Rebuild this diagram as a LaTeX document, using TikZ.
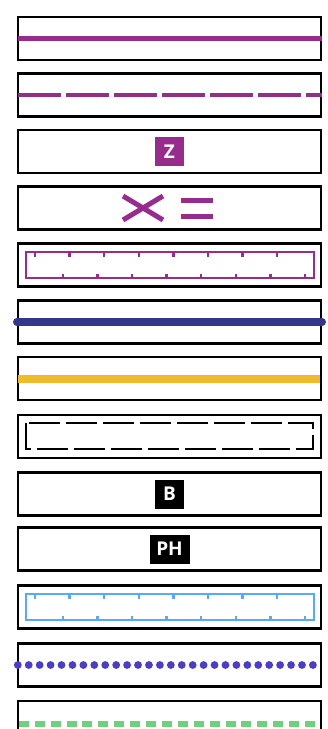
\documentclass[tikz,border=0pt]{standalone}
\usepackage{fontspec}
\newfontfamily\badgefont{Open Sans}
\usepackage{tikz}

\definecolor{plum}{RGB}{150,45,140}
\definecolor{navy}{RGB}{51,54,138}
\definecolor{amber}{RGB}{240,186,44}
\definecolor{sky}{RGB}{90,169,247}
\definecolor{indigo}{RGB}{75,62,194}
\definecolor{mint}{RGB}{109,209,127}

\begin{document}
\begin{tikzpicture}[x=1pt,y=-1pt]
\useasboundingbox (0,0) rectangle (328,729);

\begin{scope}[every node/.style={rectangle,draw=black,line width=2.4pt,
              minimum width=303pt,minimum height=43pt,inner sep=0pt}]
    \node (b1) at (169.5,38.5) {};
    \node (b2) at (169.5,95) {};
    \node (b3) at (169.5,151.5) {};
    \node (b4) at (169.5,208) {};
    \node (b5) at (169.5,265) {};
    \node (b6) at (169.5,322) {};
    \node (b7) at (169.5,378.5) {};
    \node (b8) at (169.5,436.5) {};
    \node (b9) at (169.5,494) {};
    \node (b10) at (169.5,549) {};
    \node (b11) at (169.5,607) {};
    \node (b12) at (169.5,665) {};
    \node (b13) at (169.5,722.5) {};
\end{scope}

\begin{scope}[every node/.style={rectangle,minimum width=29pt,minimum height=29pt,
              inner sep=0pt,text=white,font=\badgefont\bfseries\fontsize{19}{19}\selectfont}]
    \node[fill=plum] (z) at (b3) {Z};
    \node[fill=black] (bb) at (b9) {B};
    \node[fill=black,minimum width=40pt] (ph) at (b10) {PH};
\end{scope}

\begin{scope}[every edge/.style={draw,line width=4.6pt}]
    \path ([xshift=1pt]b1.west) edge[plum] (b1.east);
    \path ([xshift=1pt]b2.west) edge[plum,dash pattern=on 42.7pt off 5.4pt] (b2.east);
    \path (b6.west) edge[navy,line width=7.5pt,line cap=round] (b6.east);
    \path ([xshift=1pt]b7.west) edge[amber,line width=8pt] ([xshift=-2pt]b7.east);
    \path ([xshift=1pt]b12.west) edge[indigo,line width=7.8pt,line cap=round,
          dash pattern=on 0pt off 10.93pt] ([xshift=-7pt]b12.east);
    \path ([xshift=2pt,yshift=-1.2pt]b13.west) edge[mint,line width=6pt,
          dash pattern=on 10pt off 5.9pt] ([xshift=-4pt,yshift=-1.2pt]b13.east);
\end{scope}

% cross and equals
\begin{scope}[shift={(b4.center)},plum,line width=5pt]
    \draw (-46.5,-12) -- (-6.5,12);
    \draw (-46.5,12) -- (-6.5,-12);
    \draw (11.5,-8) -- (43.5,-8);
    \draw (11.5,8) -- (43.5,8);
\end{scope}

% rulers
\begin{scope}[shift={(b5.center)},plum,line width=2.4pt]
    \draw (-143.5,-13) rectangle (144.5,13);
    \foreach \k in {0,...,7} {
        \draw (-134.5+34.6*\k,-13) -- ++(0,4.5);
        \draw (-106.8+34.6*\k,13) -- ++(0,-4.5);
    }
\end{scope}
\begin{scope}[shift={(b11.center)},sky,line width=2.4pt]
    \draw (-143.5,-13) rectangle (144.5,13);
    \foreach \k in {0,...,7} {
        \draw (-134.5+34.6*\k,-13) -- ++(0,4.5);
        \draw (-106.8+34.6*\k,13) -- ++(0,-4.5);
    }
\end{scope}

\draw[shift={(b8.center)},line width=2.4pt,dash pattern=on 31pt off 6pt]
    (-143.5,-13.5) rectangle (143.5,12.5);

\end{tikzpicture}
\end{document}
